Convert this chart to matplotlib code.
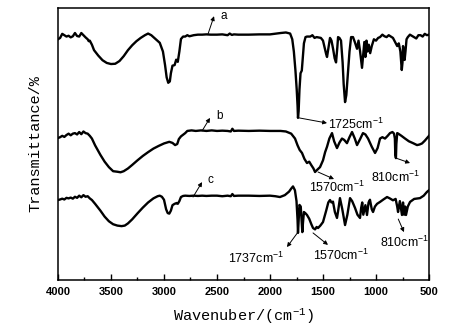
import numpy as np
import matplotlib
matplotlib.use("Agg")
import matplotlib.pyplot as plt
from matplotlib.ticker import MultipleLocator

# FTIR spectra, wavenumber (cm-1) vs. transmittance (offset curves a/b/c)
wn_a = [4000, 3980, 3960, 3940, 3920, 3900, 3880, 3860, 3840, 3820, 3800, 3780, 3760, 3740,
        3720, 3710, 3700, 3680, 3660, 3620, 3580, 3540, 3500, 3460, 3420, 3380, 3340, 3300,
        3260, 3220, 3180, 3150, 3120, 3100, 3070, 3040, 3010, 2990, 2975, 2960, 2945, 2935,
        2920, 2900, 2885, 2870, 2855, 2840, 2820, 2800, 2780, 2760, 2720, 2680, 2640, 2600,
        2560, 2500, 2450, 2400, 2380, 2360, 2340, 2300, 2200, 2100, 2000, 1900, 1850, 1810,
        1790, 1775, 1760, 1748, 1740, 1736, 1730, 1722, 1712, 1700, 1690, 1680, 1665, 1651,
        1620, 1600, 1580, 1560, 1520, 1500, 1485, 1470, 1462, 1450, 1434, 1420, 1405, 1390,
        1377, 1365, 1358, 1345, 1330, 1315, 1305, 1292, 1280, 1265, 1250, 1235, 1217, 1200,
        1179, 1165, 1150, 1132, 1120, 1110, 1100, 1090, 1080, 1068, 1055, 1040, 1020, 1000,
        980, 962, 940, 920, 900, 880, 860, 840, 820, 800, 785, 770, 757, 750, 745, 738, 730,
        722, 712, 700, 680, 650, 620, 600, 580, 560, 540, 520, 500]
tr_a = [88.5, 89.0, 90.5, 90.0, 89.5, 89.8, 89.2, 89.6, 90.8, 89.7, 89.5, 90.8, 90.0, 89.2,
        88.5, 87.8, 88.0, 86.5, 84.5, 82.5, 80.8, 79.8, 79.4, 79.5, 80.5, 82.3, 84.5, 86.3,
        87.8, 89.0, 90.0, 90.6, 90.0, 89.3, 88.2, 87.2, 84.0, 79.0, 74.5, 72.5, 73.0, 76.0,
        78.8, 79.0, 81.0, 80.2, 84.0, 88.6, 89.5, 89.5, 90.0, 89.6, 90.0, 90.2, 90.2, 90.3,
        90.2, 90.2, 90.3, 90.0, 90.6, 90.1, 90.3, 90.2, 90.2, 90.3, 90.3, 90.8, 91.0, 90.6,
        88.5, 84.0, 77.0, 70.0, 64.0, 59.6, 62.0, 70.0, 76.0, 77.0, 82.0, 87.0, 89.3, 89.5,
        89.5, 90.0, 89.0, 89.3, 89.0, 88.0, 85.5, 83.0, 82.0, 85.0, 89.0, 88.0, 85.0, 81.5,
        80.0, 85.5, 89.3, 89.0, 88.0, 80.0, 72.0, 65.4, 68.0, 76.0, 84.0, 89.3, 89.3, 87.5,
        85.0, 88.0, 84.0, 78.0, 83.0, 87.5, 82.0, 88.0, 84.0, 86.5, 83.4, 86.0, 88.5, 88.0,
        89.0, 89.3, 90.2, 89.6, 89.3, 90.0, 89.5, 89.0, 87.5, 86.0, 87.0, 84.0, 77.2, 80.0,
        86.0, 84.0, 80.9, 84.0, 88.5, 89.3, 90.2, 89.5, 88.8, 90.0, 90.0, 89.5, 90.5, 90.0, 90.2]

wn_b = [4000, 3980, 3960, 3940, 3920, 3900, 3880, 3860, 3840, 3820, 3800, 3780, 3760, 3740,
        3720, 3700, 3680, 3650, 3600, 3560, 3520, 3480, 3440, 3410, 3380, 3340, 3300, 3250,
        3200, 3150, 3100, 3050, 3000, 2950, 2920, 2895, 2875, 2860, 2840, 2800, 2780, 2740,
        2700, 2650, 2600, 2550, 2500, 2450, 2400, 2370, 2355, 2340, 2300, 2200, 2100, 2000,
        1900, 1850, 1800, 1764, 1740, 1720, 1698, 1675, 1651, 1630, 1610, 1590, 1575, 1555,
        1528, 1500, 1480, 1462, 1440, 1415, 1395, 1368, 1345, 1321, 1300, 1274, 1250, 1226,
        1200, 1179, 1150, 1123, 1100, 1075, 1040, 1009, 985, 962, 940, 915, 890, 868, 845,
        830, 822, 818, 812, 808, 800, 790, 760, 726, 690, 650, 613, 590, 566, 540, 509, 500]
tr_b = [52.2, 52.5, 53.0, 52.6, 53.3, 53.8, 53.2, 53.8, 54.0, 53.5, 54.4, 53.6, 54.6, 54.0,
        53.8, 53.0, 52.0, 49.5, 46.0, 43.5, 41.5, 40.0, 39.8, 39.6, 40.0, 41.0, 42.3, 44.0,
        45.6, 47.0, 48.3, 49.3, 50.2, 50.8, 50.4, 49.6, 50.0, 51.8, 52.8, 54.0, 54.8, 55.0,
        54.8, 55.0, 54.8, 55.0, 54.8, 54.9, 54.8, 54.6, 55.6, 54.8, 54.9, 54.8, 54.9, 54.8,
        54.8, 54.6, 53.8, 52.0, 49.5, 47.8, 46.7, 44.5, 43.0, 43.5, 42.2, 41.0, 39.7, 40.5,
        41.5, 44.0, 47.0, 49.0, 52.0, 54.0, 51.0, 48.5, 50.5, 52.0, 51.5, 50.3, 52.5, 54.4,
        52.0, 49.6, 51.8, 54.0, 53.5, 52.0, 49.0, 46.7, 48.5, 52.0, 52.5, 52.0, 53.0, 54.0,
        54.4, 53.8, 52.0, 46.0, 44.8, 50.0, 54.0, 53.8, 53.0, 52.0, 51.0, 50.3, 49.6, 49.8,
        50.2, 51.2, 52.6, 53.0]

wn_c = [4000, 3980, 3960, 3940, 3920, 3900, 3880, 3860, 3840, 3820, 3800, 3780, 3760, 3740,
        3720, 3700, 3680, 3650, 3600, 3560, 3520, 3480, 3440, 3400, 3370, 3340, 3300, 3250,
        3200, 3150, 3100, 3060, 3040, 3020, 3000, 2980, 2965, 2950, 2935, 2920, 2900, 2880,
        2870, 2855, 2840, 2820, 2800, 2760, 2720, 2680, 2640, 2600, 2550, 2500, 2450, 2400,
        2370, 2355, 2340, 2300, 2200, 2100, 2000, 1950, 1906, 1860, 1820, 1800, 1783, 1765,
        1750, 1740, 1736, 1730, 1722, 1710, 1700, 1695, 1689, 1680, 1665, 1651, 1630, 1610,
        1594, 1575, 1560, 1547, 1525, 1500, 1470, 1450, 1434, 1420, 1406, 1388, 1368, 1355,
        1340, 1318, 1292, 1270, 1245, 1225, 1198, 1175, 1151, 1140, 1130, 1120, 1100, 1085,
        1070, 1057, 1040, 1028, 1010, 990, 962, 930, 896, 870, 840, 815, 800, 792, 775, 765,
        755, 745, 735, 725, 717, 700, 679, 640, 585, 550, 519, 500]
tr_c = [29.4, 29.6, 29.9, 29.6, 30.2, 30.0, 30.3, 29.9, 30.6, 30.2, 31.0, 30.4, 31.2, 30.6,
        30.8, 30.0, 29.4, 28.0, 25.5, 23.3, 21.6, 20.5, 20.0, 19.8, 20.0, 20.8, 22.3, 24.5,
        26.6, 28.5, 30.0, 30.8, 31.0, 30.6, 29.5, 26.0, 24.6, 24.4, 25.5, 27.5, 28.0, 28.3,
        28.0, 29.0, 30.5, 30.9, 31.0, 30.9, 31.0, 30.9, 31.0, 30.9, 31.0, 31.0, 30.8, 31.0,
        30.8, 31.6, 30.9, 31.0, 31.0, 30.9, 31.0, 30.8, 30.5, 31.2, 32.5, 33.6, 34.4, 33.0,
        29.0, 22.0, 17.3, 22.0, 27.6, 27.0, 21.0, 17.6, 21.0, 25.0, 24.5, 23.9, 22.5, 20.5,
        19.1, 18.6, 19.5, 19.1, 20.0, 21.3, 25.5, 28.5, 29.4, 28.5, 28.8, 25.0, 22.8, 26.0,
        30.1, 26.0, 20.2, 24.0, 30.1, 29.0, 26.5, 24.0, 22.8, 26.5, 28.5, 24.0, 27.5, 23.9,
        28.5, 29.5, 26.0, 25.0, 27.0, 28.0, 28.7, 29.6, 30.5, 30.0, 29.3, 29.8, 27.0, 25.0,
        29.0, 26.5, 23.9, 28.5, 24.0, 27.0, 23.9, 27.0, 28.7, 29.8, 30.1, 31.0, 32.4, 33.0]

# annotation labels: text, point on curve, arrow head, text anchor
labels = ["a", "b", "c", "1725cm$^{-1}$", "1570cm$^{-1}$", "810cm$^{-1}$",
          "1737cm$^{-1}$", "1570cm$^{-1}$", "810cm$^{-1}$"]
tails = [(2585, 90.4), (2641, 54.8), (2726, 30.5), (1726, 59.6), (1547, 39.7), (811, 44.8),
         (1736, 17.6), (1594, 17.3), (790, 22.4)]
heads = [(2528, 97.0), (2566, 59.6), (2641, 36.0), (1462, 57.7), (1396, 37.1), (679, 43.0),
         (1840, 12.1), (1453, 12.9), (736, 17.6)]
text_pos = [(2470, 97.2), (2505, 60.2), (2594, 36.6), (1453, 57.3), (1368, 34.0), (811, 37.8),
            (2132, 8.1), (1330, 9.2), (726, 14.0)]
text_ha = ["left", "left", "left", "left", "center", "center", "center", "center", "center"]

plt.rcParams['font.family'] = ['Liberation Sans', 'DejaVu Sans']
plt.rcParams['mathtext.default'] = 'regular'

fig = plt.figure(figsize=(4.61, 3.36), dpi=100)
ax = fig.add_axes([0.1258, 0.1667, 0.8048, 0.8095])

for wn, tr in [(wn_a, tr_a), (wn_b, tr_b), (wn_c, tr_c)]:
    ax.plot(wn, tr, color='black', lw=1.7, solid_joinstyle='round')

for txt, t, h, p, ha in zip(labels, tails, heads, text_pos, text_ha):
    ax.annotate('', xy=h, xytext=t,
                arrowprops=dict(arrowstyle='-|>', color='black', lw=0.7,
                                mutation_scale=6, shrinkA=0, shrinkB=0))
    ax.text(p[0], p[1], txt, ha=ha, va='center', fontsize=9 if len(txt) > 1 else 8.5)

ax.set_xlim(4000, 500)
ax.set_ylim(0, 100)
ax.xaxis.set_major_locator(MultipleLocator(500))
ax.xaxis.set_minor_locator(MultipleLocator(250))
ax.tick_params(axis='x', which='both', direction='in', top=False, labelsize=8, pad=5)
ax.tick_params(axis='x', which='major', length=4, width=1)
ax.tick_params(axis='x', which='minor', length=2.5, width=1)
for lbl in ax.get_xticklabels():
    lbl.set_fontweight('bold')
ax.set_yticks([])
for s in ax.spines.values():
    s.set_linewidth(1.1)

ax.set_xlabel("Wavenuber/(cm$^{-1}$)", family='Liberation Mono', fontsize=11, labelpad=7)
ax.set_ylabel("Transmittance/%", family='Liberation Mono', fontsize=11, labelpad=11)

fig.savefig("out.png", dpi=100)
